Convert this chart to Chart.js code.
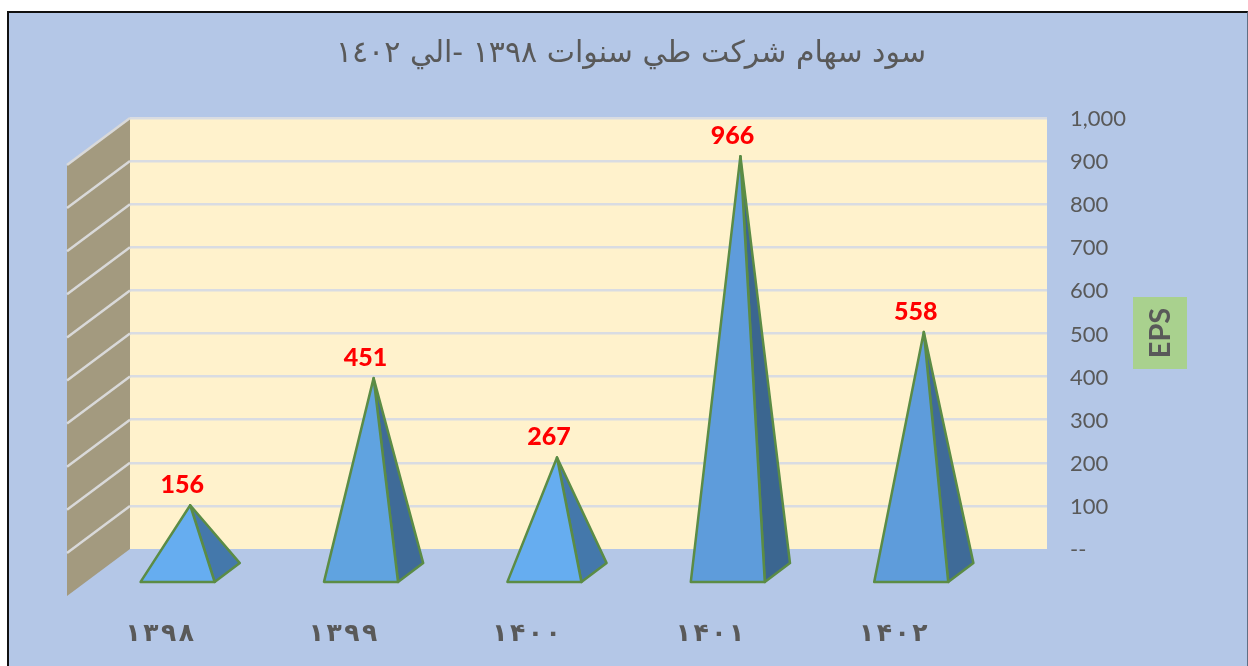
<!DOCTYPE html>
<html lang="fa">

<head>
  <meta charset="UTF-8" />
  <title>EPS</title>
  <script src="https://cdn.jsdelivr.net/npm/chart.js"></script>
  <style>
    body { margin: 0; background: #fff; }
    #card { position: absolute; left: 7px; top: 11px; width: 1238px; height: 655px; background: #b4c7e7;
      border-left: 2px solid #111; border-top: 2px solid #111; border-right: 1px solid #5f6f85; }
    #chart { position: absolute; left: 0; top: 0; }
  </style>
</head>

<body>
  <div id="card"></div>
  <canvas id="chart" width="1248" height="666" dir="rtl"></canvas>

  <script>
    const titleText = 'سود سهام شركت طي سنوات ١٣٩٨ -الي ١٤٠٢';
    const axisTitle = 'EPS';
    const years = ['۱۳۹۸', '۱۳۹۹', '۱۴۰۰', '۱۴۰۱', '۱۴۰۲'];
    const eps = [156, 451, 267, 966, 558];
    const frontColors = ['#66adf0', '#60a3e0', '#66adf0', '#5e9cdb', '#5e9cdb'];
    const sideColors = ['#4478ab', '#3f6b98', '#4478ab', '#3b6690', '#3f6b98'];

    // the 3d look: depth of the floor in pixels
    const depthX = 63, depthY = 47;
    const halfBase = 37;

    function project(x, y, t) {
      return [x - depthX * t, y + depthY * t];
    }

    function poly(ctx, pts, fill, stroke) {
      ctx.beginPath();
      pts.forEach((p, i) => i ? ctx.lineTo(p[0], p[1]) : ctx.moveTo(p[0], p[1]));
      ctx.closePath();
      ctx.fillStyle = fill;
      ctx.fill();
      if (stroke) {
        ctx.strokeStyle = stroke;
        ctx.lineWidth = 2.5;
        ctx.lineJoin = 'round';
        ctx.stroke();
      }
    }

    const pyramids = {
      id: 'pyramids',
      beforeDraw(chart) {
        const ctx = chart.ctx, a = chart.chartArea;
        ctx.save();
        ctx.fillStyle = '#fff2cc';
        ctx.fillRect(a.left, a.top, a.right - a.left, a.bottom - a.top);
        poly(ctx, [[a.left, a.top], [a.left, a.bottom], project(a.left, a.bottom, 1), project(a.left, a.top, 1)], '#a39a7f');
        ctx.restore();
      },
      beforeDatasetsDraw(chart) {
        const ctx = chart.ctx, a = chart.chartArea, y = chart.scales.y;
        ctx.save();
        ctx.strokeStyle = '#d9d9d9';
        ctx.lineWidth = 2.5;
        y.ticks.forEach(t => {
          if (t.value === 0) return;
          const py = y.getPixelForValue(t.value);
          const end = project(a.left, py, 1);
          ctx.beginPath();
          ctx.moveTo(a.left, py);
          ctx.lineTo(end[0], end[1]);
          ctx.stroke();
        });
        ctx.restore();
      },
      afterDatasetsDraw(chart) {
        const ctx = chart.ctx, a = chart.chartArea;
        const bars = chart.getDatasetMeta(0).data;
        ctx.save();
        bars.forEach((bar, i) => {
          const apex = project(bar.x, bar.y, 0.5);
          const fl = project(bar.x - halfBase, a.bottom, 0.7);
          const fr = project(bar.x + halfBase, a.bottom, 0.7);
          const br = project(bar.x + halfBase, a.bottom, 0.3);
          poly(ctx, [apex, fr, br], sideColors[i], '#5b8c45');
          poly(ctx, [apex, fl, fr], frontColors[i], '#5b8c45');

          ctx.fillStyle = '#ff0000';
          ctx.font = '900 25px Lato';
          ctx.textAlign = 'center';
          ctx.textBaseline = 'middle';
          ctx.fillText(eps[i], apex[0] - 8, apex[1] - 20);
        });

        // axis title box, reads bottom to top
        ctx.fillStyle = '#a9d18e';
        ctx.fillRect(1133, 297, 54, 72);
        ctx.translate(1161, 333);
        ctx.rotate(-Math.PI / 2);
        ctx.fillStyle = '#595959';
        ctx.font = 'bold 29px Lato';
        ctx.textAlign = 'center';
        ctx.textBaseline = 'middle';
        ctx.fillText(axisTitle, 0, 0);
        ctx.restore();
      }
    };

    new Chart(document.getElementById('chart'), {
      type: 'bar',
      data: {
        labels: years,
        datasets: [{
          label: axisTitle,
          data: eps,
          yAxisID: 'y',
          backgroundColor: 'transparent',
          borderWidth: 0
        }]
      },
      plugins: [pyramids],
      options: {
        responsive: false,
        animation: false,
        layout: { padding: { left: 14, right: 0, top: 0, bottom: 0 } },
        plugins: {
          legend: { display: false },
          tooltip: { enabled: false },
          title: {
            display: true,
            text: titleText,
            color: '#595959',
            font: { family: '"DejaVu Sans"', size: 30, weight: 'normal' },
            padding: { top: 36, bottom: 46 }
          }
        },
        scales: {
          x: {
            grid: { display: false },
            border: { display: false },
            afterFit(scale) { scale.height = 117; },
            ticks: {
              color: '#595959',
              font: { family: '"DejaVu Sans"', size: 25, weight: 'bold' },
              padding: 62,
              labelOffset: -62,
              maxRotation: 0,
              autoSkip: false,
              // the canvas is rtl, force the digits to stay in reading order
              callback(v) { return '\u202D' + Array.from(years[v]).join('\u200A') + '\u202C'; }
            }
          },
          y: {
            position: 'right',
            min: 0,
            max: 1000,
            border: { display: false },
            afterFit(scale) { scale.width = 201; },
            grid: {
              drawTicks: false,
              lineWidth: 2.5,
              color: c => c.tick.value === 0 ? 'transparent' : '#d9dce2'
            },
            ticks: {
              stepSize: 100,
              color: '#595959',
              padding: 23,
              labelOffset: 1,
              font: { family: 'Lato', size: 22 },
              callback: v => v === 0 ? '--' : v.toLocaleString('en-US')
            }
          },
          // keeps the plot clear of the left wall, title stays centred on the card
          yLeft: {
            position: 'left',
            grid: { display: false },
            border: { display: false },
            ticks: { display: false },
            afterFit(scale) { scale.width = 116; }
          }
        }
      }
    });
  </script>
</body>

</html>
